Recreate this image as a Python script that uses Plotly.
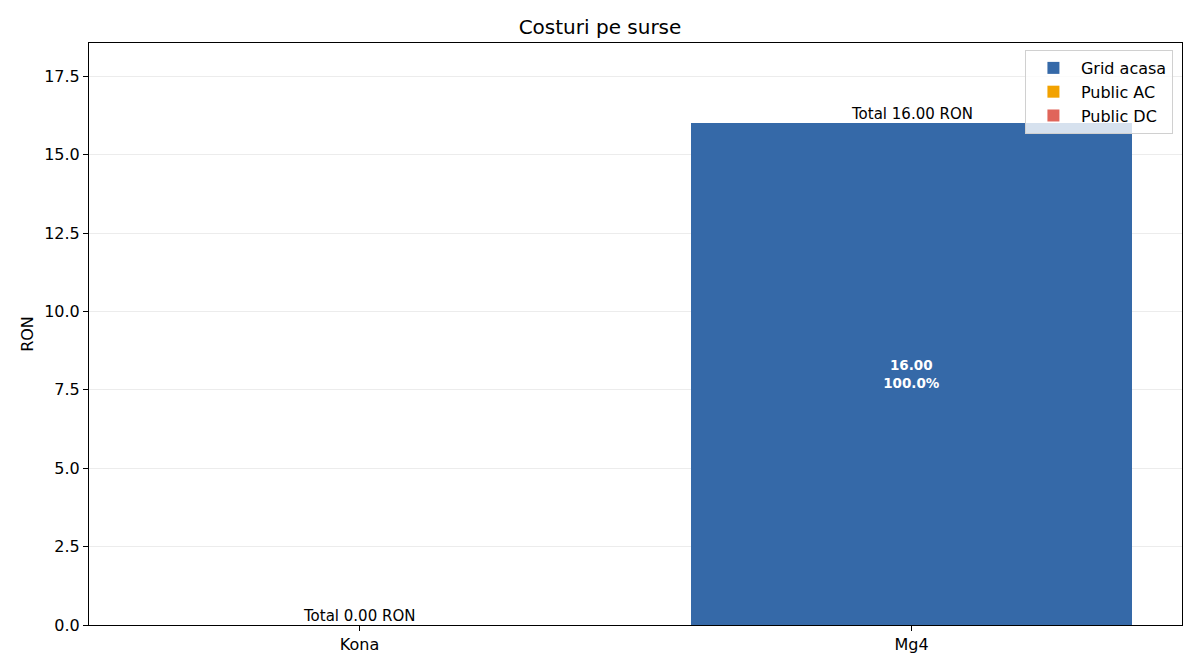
import plotly.graph_objects as go

vehicles = ["Kona", "Mg4"]
grid_acasa = [0.0, 16.0]
public_ac = [0.0, 0.0]
public_dc = [0.0, 0.0]
series_names = ["Grid acasa", "Public AC", "Public DC"]
series_colors = ["#3569a8", "#f2a200", "#e0655a"]

totals = [g + a + d for g, a, d in zip(grid_acasa, public_ac, public_dc)]

fig = go.Figure()
for name, vals, col in zip(series_names, [grid_acasa, public_ac, public_dc], series_colors):
    texts = []
    for v, t in zip(vals, totals):
        if v > 0 and t > 0:
            texts.append(f"<b>{v:.2f}<br>{100*v/t:.1f}%</b>")
        else:
            texts.append("")
    fig.add_trace(go.Bar(
        x=vehicles, y=vals, name=name, marker=dict(color=col, line=dict(width=0)),
        text=texts, textposition="inside", insidetextanchor="middle",
        textfont=dict(color="white", size=13.5, family="DejaVu Sans"),
        width=0.8, hoverinfo="skip",
    ))

for v, t in zip(vehicles, totals):
    fig.add_annotation(x=v, y=t, text=f"Total {t:.2f} RON", showarrow=False,
                       yanchor="bottom", yshift=-2,
                       font=dict(size=15, color="black", family="DejaVu Sans"))

fig.update_layout(
    barmode="stack",
    width=1200, height=672,
    margin=dict(l=89, r=18, t=43, b=47, autoexpand=False),
    paper_bgcolor="white", plot_bgcolor="white",
    font=dict(family="DejaVu Sans", size=16, color="black"),
    title=dict(text="Costuri pe surse", x=0.5, xanchor="center", y=0.96, yanchor="middle",
               font=dict(size=20, color="black")),
    showlegend=True,
    legend=dict(x=0.9917, xanchor="right", y=0.988, yanchor="top", traceorder="normal",
                bgcolor="rgba(255,255,255,0.8)", bordercolor="#d0d0d0", borderwidth=1,
                font=dict(size=16), tracegroupgap=0, itemwidth=45),
    xaxis=dict(range=[-0.49, 1.49], showgrid=False, showline=True, linecolor="black",
               linewidth=1, mirror=True, ticks="outside", ticklen=5, tickcolor="black",
               tickfont=dict(size=16), automargin=False, layer="above traces"),
    yaxis=dict(range=[0, 18.56], dtick=2.5, tickformat=".1f", showgrid=True,
               gridcolor="rgba(200,200,200,0.35)", gridwidth=1, zeroline=False,
               showline=True, linecolor="black", linewidth=1, mirror=True,
               ticks="outside", ticklen=5, tickcolor="black", tickfont=dict(size=16),
               title=dict(text="RON", font=dict(size=16), standoff=6),
               automargin=False, layer="above traces"),
)

fig.write_html("out.html", config={"displayModeBar": False},
               post_script="document.body.style.margin='0';")
